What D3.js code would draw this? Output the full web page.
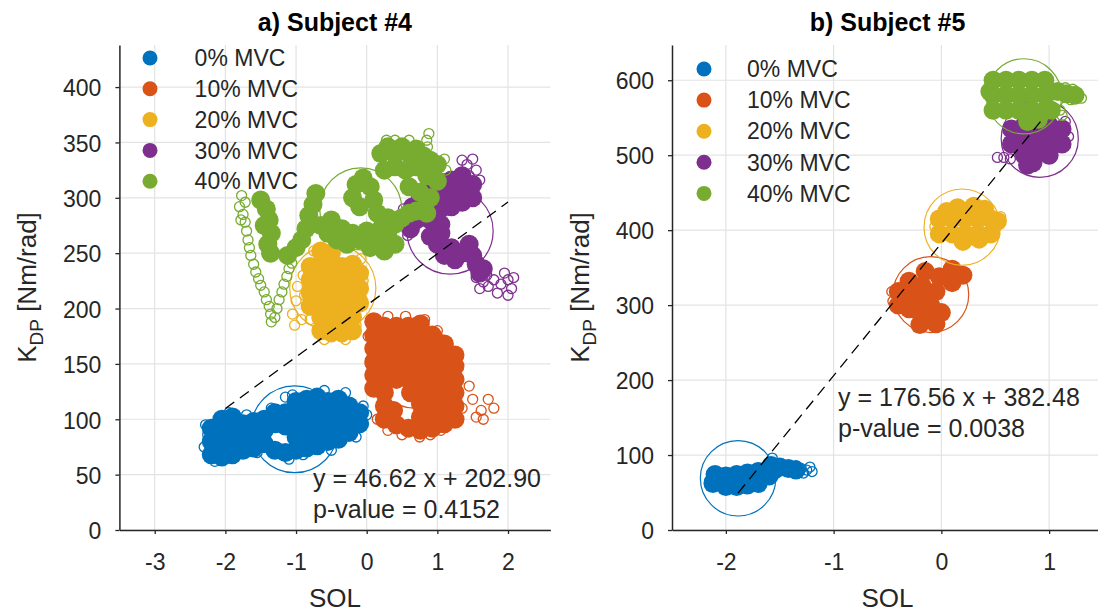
<!DOCTYPE html>
<html>
<head>
<meta charset="utf-8">
<script src="https://cdn.jsdelivr.net/npm/d3@7"></script>
<style>
  body { margin: 0; background: #fff; }
  text { font-family: "Liberation Sans", Arial, sans-serif; fill: #262626; }
</style>
</head>
<body>
<script>
const width = 1098
const height = 615

const levels = ['0% MVC', '10% MVC', '20% MVC', '30% MVC', '40% MVC']
const colors = ['#0072BD', '#D95319', '#EDB120', '#7E2F8E', '#77AC30']

// ---- subject #4 ----
const s4Ticks = { x: [-3, -2, -1, 0, 1, 2], y: [0, 50, 100, 150, 200, 250, 300, 350, 400] }
const s4Fit = [46.62, 202.90]
const s4FitRange = [-2, 2]
const s4Text = ['y = 46.62 x + 202.90', 'p-value = 0.4152']
// fitted circle per level: [x, y, radius in SOL units]
const s4Circles = [[-1.02, 91, 0.615], [0.68, 148, 0.594], [-0.48, 218.5, 0.61], [1.18, 270, 0.61], [-0.085, 290, 0.58]]

const s4Core0 = [[-2.2,68],[-2.2,80],[-2.2,92],[-2.05,66],[-2.05,78],[-2.05,90],[-2.05,100],
  [-1.9,68],[-1.9,80],[-1.9,92],[-1.9,102],[-1.75,72],[-1.75,84],[-1.75,96],[-1.6,74],[-1.6,86],[-1.6,98],
  [-1.45,78],[-1.45,90],[-1.45,100],[-1.3,72],[-1.3,96],[-1.3,106],[-1.15,70],[-1.15,94],[-1.15,106],
  [-1.0,72],[-1.0,84],[-1.0,96],[-1.0,108],[-1.0,116],[-0.85,74],[-0.85,86],[-0.85,98],[-0.85,110],[-0.85,118],
  [-0.7,76],[-0.7,88],[-0.7,100],[-0.7,112],[-0.7,120],[-0.55,80],[-0.55,92],[-0.55,104],[-0.55,116],
  [-0.4,82],[-0.4,94],[-0.4,106],[-0.4,118],[-0.25,88],[-0.25,100],[-0.25,112],[-0.1,96],[-0.1,106]]
const s4Ring0 = [[-2.3,75],[-2.28,95],[-2.15,62],[-1.95,106],[-1.7,104],[-1.1,64],[-0.9,68],[-1.15,120],
  [-1.05,122],[-0.3,124],[-0.6,126],[-0.05,112],[0.0,104],[-0.15,84],[-0.5,72],[-1.35,110],[-2.25,86],[-1.55,70]]

const s4Core1 = [[0.1,128],[0.1,140],[0.1,152],[0.1,164],[0.1,176],[0.1,188],
  [0.25,100],[0.25,112],[0.25,124],[0.25,136],[0.25,148],[0.25,160],[0.25,172],[0.25,184],
  [0.42,95],[0.42,136],[0.42,148],[0.42,160],[0.42,172],[0.42,184],[0.38,108],[0.62,124],
  [0.59,92],[0.59,136],[0.59,148],[0.59,160],[0.59,172],[0.59,184],
  [0.76,90],[0.76,102],[0.76,114],[0.76,126],[0.76,138],[0.76,150],[0.76,162],[0.76,174],[0.76,186],
  [0.93,92],[0.93,104],[0.93,116],[0.93,128],[0.93,140],[0.93,152],[0.93,164],[0.93,176],
  [1.1,96],[1.1,108],[1.1,120],[1.1,132],[1.1,144],[1.1,156],[1.1,168],
  [1.25,100],[1.25,112],[1.25,124],[1.25,136],[1.25,148],[1.25,158]]
const s4Ring1 = [[1.45,130],[1.5,118],[1.62,108],[1.72,118],[1.8,110],[1.65,100],[1.55,102],[1.35,110],
  [0.15,100],[0.3,90],[0.5,86],[0.75,84],[0.9,86],[1.05,90],[0.02,175],[0.05,150],[0.3,193],[0.55,193],
  [0.82,190],[1.0,180]]

const s4Core2 = [[-0.8,202],[-0.8,214],[-0.8,226],[-0.8,238],
  [-0.65,180],[-0.65,192],[-0.65,204],[-0.65,216],[-0.65,228],[-0.65,240],[-0.65,252],
  [-0.5,178],[-0.5,190],[-0.5,202],[-0.5,214],[-0.5,226],[-0.5,238],[-0.5,250],
  [-0.35,178],[-0.35,190],[-0.35,202],[-0.35,214],[-0.35,226],[-0.35,238],
  [-0.2,180],[-0.2,192],[-0.2,204],[-0.2,216],[-0.2,228],[-0.2,240],[-0.1,205],[-0.1,218],[-0.1,232]]
const s4Ring2 = [[-1.05,195],[-1.0,207],[-0.98,220],[-0.92,190],[-0.88,212],[-1.02,185],[-0.9,230],
  [-0.8,190],[-0.75,252],[-0.55,258],[-0.08,245],[-0.05,225],[-0.15,185],[-0.3,172],[-0.6,172]]

const s4Core3 = [[0.75,292],[0.75,304],[0.9,280],[0.9,292],[0.9,304],[0.9,314],
  [1.05,276],[1.05,290],[1.05,302],[1.05,314],[1.2,292],[1.2,304],[1.2,316],[1.35,296],[1.35,308],[1.35,320],
  [1.5,300],[1.5,312],[0.55,282],[0.62,272],[0.7,280],[0.65,292],
  [0.9,265],[1.0,258],[1.05,268],[1.1,248],[1.2,255],[1.25,244],[1.35,250],[1.45,258],[1.5,248],
  [1.55,240],[1.6,232],[1.65,236]]
const s4Ring3 = [[1.35,334],[1.42,330],[1.5,335],[1.55,325],[1.45,320],[1.6,316],[0.52,290],[0.5,276],
  [0.58,266],[1.55,228],[1.65,224],[1.72,220],[1.8,226],[1.9,222],[2.0,226],[2.05,218],[2.0,212],
  [1.85,214],[1.6,218],[1.7,230],[1.95,232],[2.08,228]]

const s4Core4 = [[-1.5,298],[-1.42,290],[-1.38,280],[-1.35,268],[-1.4,258],[-1.36,250],[-1.45,275],
  [-1.12,248],[-1.0,255],[-0.92,262],[-0.86,272],[-0.82,284],[-0.76,294],[-0.72,304],
  [-0.65,275],[-0.55,268],[-0.5,280],[-0.42,262],[-0.35,272],[-0.28,258],[-0.2,268],[-0.1,262],
  [0.0,270],[0.1,262],[0.2,272],[0.3,266],[0.4,276],[0.5,282],[0.6,286],[0.7,288],[0.8,290],[0.85,286],
  [0.3,282],[0.2,258],[0.05,255],[0.25,252],[0.4,258],
  [-0.2,300],[-0.15,312],[-0.05,318],[0.05,310],[0.1,298],[-0.1,292],[0.15,286],
  [0.2,340],[0.3,346],[0.4,340],[0.5,346],[0.6,340],[0.7,344],[0.8,338],[0.9,334],[1.0,330],
  [0.25,325],[0.4,328],[0.55,325],[0.7,328],[0.85,320],[1.0,315],[0.6,310],[0.75,305],[0.9,300]]
const s4Ring4 = [[-1.77,302],[-1.8,292],[-1.75,285],[-1.72,278],[-1.7,270],[-1.68,262],[-1.66,255],
  [-1.64,248],[-1.6,240],[-1.57,233],[-1.53,227],[-1.5,221],[-1.45,215],[-1.42,208],[-1.38,202],
  [-1.36,195],[-1.35,188],[-1.3,192],[-1.27,200],[-1.24,208],[-1.2,215],[-1.17,222],[-1.13,229],
  [-1.1,236],[-1.06,241],[-1.78,280],[-1.72,296],[0.85,352],[0.88,358],[0.86,346],[0.6,352],
  [0.4,352],[1.1,335],[1.12,325],[0.28,352]]

// ---- subject #5 ----
const s5Ticks = { x: [-2, -1, 0, 1], y: [0, 100, 200, 300, 400, 500, 600] }
const s5Fit = [176.56, 382.48]
const s5FitRange = [-1.887, 0.92]
const s5Text = ['y = 176.56 x + 382.48', 'p-value = 0.0038']
const s5Circles = [[-1.887, 69, 0.35], [-0.098, 314, 0.352], [0.193, 404, 0.354], [0.913, 522, 0.358], [0.767, 578.5, 0.349]]

const s5Core0 = [[-2.12,62],[-2.1,74],[-2.0,58],[-2.0,72],[-1.9,58],[-1.9,74],[-1.8,60],[-1.8,76],
  [-1.7,62],[-1.7,78],[-1.6,72],[-1.58,86],[-1.55,80],[-1.5,84],[-1.42,82],[-1.35,80]]
const s5Ring0 = [[-1.3,82],[-1.25,80],[-1.2,78],[-1.22,84],[-1.28,76],[-1.35,86],[-1.57,96],[-2.15,66]]

const s5Core1 = [[-0.4,300],[-0.4,318],[-0.3,295],[-0.3,315],[-0.3,332],[-0.2,290],[-0.2,308],[-0.18,326],
  [-0.15,345],[-0.1,280],[-0.1,300],[-0.05,318],[-0.02,338],[0.1,330],[0.1,348],[0.2,340],[0.0,290],
  [-0.2,274],[-0.05,275]]
const s5Ring1 = [[-0.45,305],[-0.46,318]]

const s5Core2 = [[-0.02,395],[-0.02,415],[0.1,395],[0.1,415],[0.22,395],[0.22,415],[0.34,395],[0.34,415],
  [0.46,395],[0.46,415],[0.52,412],[0.15,430],[0.3,432],[0.05,425],[0.4,428],[0.2,385],[0.35,388]]
const s5Ring2 = [[-0.06,405],[0.55,418]]

const s5Core3 = [[0.65,535],[0.65,515],[0.77,540],[0.77,520],[0.77,500],[0.89,545],[0.89,525],[0.89,505],
  [1.0,540],[1.0,520],[1.0,500],[1.12,535],[1.12,515],[0.85,490],[0.8,487]]
const s5Ring3 = [[0.52,497],[0.58,497],[0.64,495],[1.18,525],[1.15,545]]

const s5Core4 = [[0.48,600],[0.48,580],[0.48,560],[0.6,600],[0.6,580],[0.6,560],[0.72,600],[0.72,580],
  [0.72,560],[0.84,600],[0.84,580],[0.84,560],[0.96,600],[0.96,580],[0.96,560],[1.02,560],[0.9,548],
  [0.8,545],[0.45,585],[1.08,585],[1.16,582],[1.24,580]]
const s5Ring4 = [[1.1,585],[1.17,580],[1.22,588],[1.27,582],[1.3,576],[1.2,574],[1.08,572],[1.15,590],
  [1.1,560],[1.12,553]]

const panels = [
  { title: 'a) Subject #4', left: 119.4, xDom: [-3.5, 2.6], yDom: [0, 438], ticks: s4Ticks, fit: s4Fit,
    fitRange: s4FitRange, text: s4Text, textPos: [313, 487], circles: s4Circles,
    core: [s4Core0, s4Core1, s4Core2, s4Core3, s4Core4], ring: [s4Ring0, s4Ring1, s4Ring2, s4Ring3, s4Ring4],
    legend: [150, 194.6, 58, 30.8], ylabX: 36 },
  { title: 'b) Subject #5', left: 672, xDom: [-2.5, 1.5], yDom: [0, 647], ticks: s5Ticks, fit: s5Fit,
    fitRange: s5FitRange, text: s5Text, textPos: [838, 406], circles: s5Circles,
    core: [s5Core0, s5Core1, s5Core2, s5Core3, s5Core4], ring: [s5Ring0, s5Ring1, s5Ring2, s5Ring3, s5Ring4],
    legend: [704, 747, 69, 31.1], ylabX: 589 }
]

const axW = 431
const axTop = 45
const axBottom = 530

var svg = d3.select('body').append('svg')
  .attr('width', width)
  .attr('height', height)

panels.forEach(function (p) {
  const x = d3.scaleLinear().domain(p.xDom).range([p.left, p.left + axW])
  const y = d3.scaleLinear().domain(p.yDom).range([axBottom, axTop])
  const g = svg.append('g')

  // grid
  g.selectAll('.gx').data(p.ticks.x).enter().append('line')
    .attr('x1', d => x(d)).attr('x2', d => x(d))
    .attr('y1', axTop).attr('y2', axBottom)
    .style('stroke', '#e3e3e3').style('stroke-width', 1.2)
  g.selectAll('.gy').data(p.ticks.y).enter().append('line')
    .attr('x1', p.left).attr('x2', p.left + axW)
    .attr('y1', d => y(d)).attr('y2', d => y(d))
    .style('stroke', '#e3e3e3').style('stroke-width', 1.2)

  // data
  p.core.forEach(function (pts, i) {
    g.append('g').selectAll('circle').data(pts).enter().append('circle')
      .attr('cx', d => x(d[0])).attr('cy', d => y(d[1])).attr('r', 9.5)
      .style('fill', colors[i])
    g.append('g').selectAll('circle').data(p.ring[i]).enter().append('circle')
      .attr('cx', d => x(d[0])).attr('cy', d => y(d[1])).attr('r', 5)
      .style('fill', 'none').style('stroke', colors[i]).style('stroke-width', 1.3)
    const c = p.circles[i]
    g.append('circle')
      .attr('cx', x(c[0])).attr('cy', y(c[1])).attr('r', x(c[0] + c[2]) - x(c[0]))
      .style('fill', 'none').style('stroke', colors[i]).style('stroke-width', 1.2)
  })

  // regression line
  g.append('line')
    .attr('x1', x(p.fitRange[0])).attr('y1', y(p.fit[0] * p.fitRange[0] + p.fit[1]))
    .attr('x2', x(p.fitRange[1])).attr('y2', y(p.fit[0] * p.fitRange[1] + p.fit[1]))
    .style('stroke', '#000').style('stroke-width', 1.3).style('stroke-dasharray', '11,7')

  // axes
  const fmt = d => String(d)
  const xa = g.append('g').attr('transform', 'translate(0,' + axBottom + ')')
    .call(d3.axisBottom(x).tickValues(p.ticks.x).tickFormat(fmt).tickSize(4).tickSizeOuter(0))
  const ya = g.append('g').attr('transform', 'translate(' + p.left + ',0)')
    .call(d3.axisLeft(y).tickValues(p.ticks.y).tickFormat(fmt).tickSize(4).tickSizeOuter(0))
  ;[xa, ya].forEach(a => {
    a.select('.domain').style('stroke', '#262626').style('stroke-width', 1.5)
    a.selectAll('.tick line').style('stroke', '#262626').style('stroke-width', 1.3)
    a.selectAll('.tick text').style('font-size', '23px').style('font-family', '"Liberation Sans", Arial, sans-serif')
      .style('fill', '#262626')
  })
  xa.selectAll('.tick text').attr('dy', null).attr('y', 40)
  ya.selectAll('.tick text').attr('x', -18).attr('dy', '0.38em')

  // legend
  const lg = p.legend
  levels.forEach(function (l, i) {
    g.append('circle').attr('cx', lg[0]).attr('cy', lg[2] + i * lg[3]).attr('r', 7.5).style('fill', colors[i])
    g.append('text').attr('x', lg[1]).attr('y', lg[2] + i * lg[3]).attr('dy', '0.36em')
      .style('font-size', '23px').text(l)
  })

  // fit text
  p.text.forEach(function (t, i) {
    g.append('text').attr('x', p.textPos[0]).attr('y', p.textPos[1] + i * 31)
      .style('font-size', '25px').text(t)
  })

  // titles and labels
  g.append('text').attr('x', p.left + axW / 2).attr('y', 31).attr('text-anchor', 'middle')
    .style('font-size', '25px').style('font-weight', 'bold').style('fill', '#000').text(p.title)
  g.append('text').attr('x', p.left + axW / 2).attr('y', 607).attr('text-anchor', 'middle')
    .style('font-size', '26px').text('SOL')
  const yl = g.append('text')
    .attr('transform', 'translate(' + p.ylabX + ',' + (axTop + axBottom) / 2 + ') rotate(-90)')
    .attr('text-anchor', 'middle').style('font-size', '26px')
  yl.append('tspan').text('K')
  yl.append('tspan').attr('dy', 7).style('font-size', '19px').text('DP')
  yl.append('tspan').attr('dy', -7).text(' [Nm/rad]')
})
</script>
</body>
</html>
